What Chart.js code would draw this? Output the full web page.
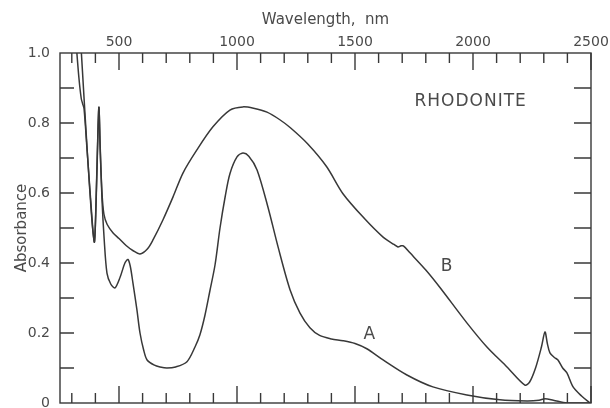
<!DOCTYPE html>
<html>
<head>
<meta charset="utf-8">
<script src="https://cdn.jsdelivr.net/npm/chart.js@4.4.1/dist/chart.umd.min.js"></script>
<style>
    body { margin: 0; background: #fff; }
    #wrap { width: 610px; height: 408px; }
</style>
</head>
<body>
<div id="wrap"><canvas id="absChart"></canvas></div>
<script>
// Rhodonite absorbance spectra, curves A and B
const wavelengthA = [318, 330, 340, 346, 352, 365, 380, 390, 396, 402, 410, 415, 420, 428, 437, 449, 465, 483, 505, 525, 538, 548, 559, 576, 589, 605, 619, 650, 674, 703, 740, 788, 822, 843, 864, 885, 907, 928, 950, 970, 1000, 1025, 1050, 1085, 1131, 1174, 1225, 1267, 1309, 1350, 1400, 1449, 1500, 1550, 1619, 1720, 1830, 1974, 2114, 2229, 2280, 2305, 2340, 2398, 2500];
const absorbA    = [1.03, 0.93, 0.87, 0.855, 0.84, 0.72, 0.58, 0.49, 0.46, 0.55, 0.75, 0.845, 0.74, 0.58, 0.47, 0.371, 0.34, 0.329, 0.36, 0.40, 0.41, 0.39, 0.343, 0.266, 0.20, 0.15, 0.123, 0.108, 0.103, 0.10, 0.103, 0.118, 0.16, 0.195, 0.25, 0.32, 0.395, 0.50, 0.59, 0.655, 0.703, 0.714, 0.705, 0.666, 0.56, 0.446, 0.323, 0.257, 0.215, 0.193, 0.183, 0.178, 0.17, 0.155, 0.123, 0.08, 0.046, 0.023, 0.009, 0.006, 0.008, 0.012, 0.008, 0.0, 0.0];

const wavelengthB = [338, 345, 360, 375, 388, 396, 402, 410, 415, 420, 428, 436, 450, 475, 500, 530, 560, 589, 620, 644, 686, 729, 771, 830, 898, 970, 1025, 1070, 1127, 1180, 1225, 1300, 1380, 1449, 1540, 1619, 1665, 1682, 1695, 1705, 1733, 1800, 1860, 1974, 2059, 2144, 2220, 2240, 2265, 2290, 2305, 2315, 2326, 2345, 2360, 2380, 2398, 2424, 2460, 2496];
const absorbB    = [1.03, 0.95, 0.78, 0.62, 0.50, 0.46, 0.56, 0.76, 0.845, 0.73, 0.60, 0.54, 0.51, 0.486, 0.47, 0.45, 0.435, 0.426, 0.44, 0.466, 0.523, 0.589, 0.657, 0.723, 0.789, 0.837, 0.846, 0.842, 0.831, 0.81, 0.787, 0.74, 0.675, 0.598, 0.527, 0.474, 0.453, 0.446, 0.449, 0.449, 0.429, 0.38, 0.33, 0.229, 0.16, 0.103, 0.051, 0.06, 0.10, 0.16, 0.203, 0.17, 0.143, 0.13, 0.123, 0.10, 0.086, 0.046, 0.02, 0.0];

const xTicks = [300, 400, 500, 600, 700, 800, 900, 1000, 1100, 1200, 1300, 1400, 1500, 1600, 1700, 1800, 1900, 2000, 2100, 2200, 2300, 2400, 2500];
const xLabels = [500, 1000, 1500, 2000, 2500];
const yTicks = [0, 0.1, 0.2, 0.3, 0.4, 0.5, 0.6, 0.7, 0.8, 0.9, 1.0];
const yLabels = { 0: '0', 0.2: '0.2', 0.4: '0.4', 0.6: '0.6', 0.8: '0.8', 1: '1.0' };

const notes = [
    { text: 'RHODONITE', x: 1990, y: 0.86, size: 17 },
    { text: 'B', x: 1890, y: 0.39, size: 17 },
    { text: 'A', x: 1563, y: 0.195, size: 17 }
];

const INK = '#383838';
const TEXT = '#4a4a4a';
const FONT = "'DejaVu Sans', sans-serif";

function toPoints(xs, ys) {
    return xs.map((x, i) => ({ x, y: ys[i] }));
}

// frame, inward ticks and the in-plot labels
const framePlugin = {
    id: 'frame',
    afterDatasetsDraw(chart) {
        const { ctx, chartArea: a, scales } = chart;
        const xs = scales.x, ys = scales.y;
        ctx.save();
        ctx.strokeStyle = INK;
        ctx.lineWidth = 1.4;
        ctx.strokeRect(a.left, a.top, a.right - a.left, a.bottom - a.top);

        ctx.beginPath();
        xTicks.forEach(v => {
            const px = xs.getPixelForValue(v);
            const len = v % 500 === 0 ? 17 : 10;
            ctx.moveTo(px, a.top); ctx.lineTo(px, a.top + len);
            ctx.moveTo(px, a.bottom); ctx.lineTo(px, a.bottom - len);
        });
        yTicks.forEach(v => {
            if (v === 0 || v === 1) return;
            const py = ys.getPixelForValue(v);
            ctx.moveTo(a.left, py); ctx.lineTo(a.left + 14, py);
            ctx.moveTo(a.right, py); ctx.lineTo(a.right - 17, py);
        });
        ctx.stroke();

        ctx.fillStyle = TEXT;
        ctx.textAlign = 'center';
        ctx.textBaseline = 'middle';
        ctx.letterSpacing = '1px';
        notes.forEach(n => {
            ctx.font = `${n.size}px ${FONT}`;
            ctx.fillText(n.text, xs.getPixelForValue(n.x), ys.getPixelForValue(n.y));
        });
        ctx.restore();
    }
};

const lineStyle = {
    borderColor: INK,
    borderWidth: 1.5,
    pointRadius: 0,
    fill: false,
    tension: 0.3
};

new Chart(document.getElementById('absChart'), {
    type: 'line',
    data: {
        datasets: [
            { label: 'A', data: toPoints(wavelengthA, absorbA), ...lineStyle },
            { label: 'B', data: toPoints(wavelengthB, absorbB), ...lineStyle }
        ]
    },
    options: {
        responsive: true,
        maintainAspectRatio: false,
        animation: false,
        layout: { padding: { top: 0, left: 0, right: 19, bottom: 5 } },
        plugins: {
            legend: { display: false },
            tooltip: { enabled: false }
        },
        scales: {
            x: {
                type: 'linear',
                position: 'top',
                min: 250,
                max: 2500,
                afterBuildTicks: s => { s.ticks = xTicks.map(v => ({ value: v })); },
                afterFit: s => { s.height = 53; s.paddingLeft = 0; s.paddingRight = 0; },
                grid: { display: false, drawTicks: false },
                border: { display: false },
                ticks: {
                    autoSkip: false,
                    maxRotation: 0,
                    padding: 2,
                    color: TEXT,
                    font: { family: FONT, size: 14 },
                    callback: v => xLabels.includes(v) ? String(v) : ''
                },
                title: {
                    display: true,
                    text: 'Wavelength,  nm',
                    color: TEXT,
                    font: { family: FONT, size: 15 },
                    padding: { top: 11, bottom: 7 }
                }
            },
            y: {
                min: 0,
                max: 1,
                afterBuildTicks: s => { s.ticks = yTicks.map(v => ({ value: v })); },
                afterFit: s => { s.width = 60; s.paddingTop = 0; s.paddingBottom = 0; },
                grid: { display: false, drawTicks: false },
                border: { display: false },
                ticks: {
                    autoSkip: false,
                    padding: 10,
                    color: TEXT,
                    font: { family: FONT, size: 14 },
                    callback: v => yLabels[Math.round(v * 10) / 10] || ''
                },
                title: {
                    display: true,
                    text: 'Absorbance',
                    color: TEXT,
                    font: { family: FONT, size: 15 },
                    padding: { top: 13, bottom: 2 }
                }
            }
        }
    },
    plugins: [framePlugin]
});
</script>
</body>
</html>
